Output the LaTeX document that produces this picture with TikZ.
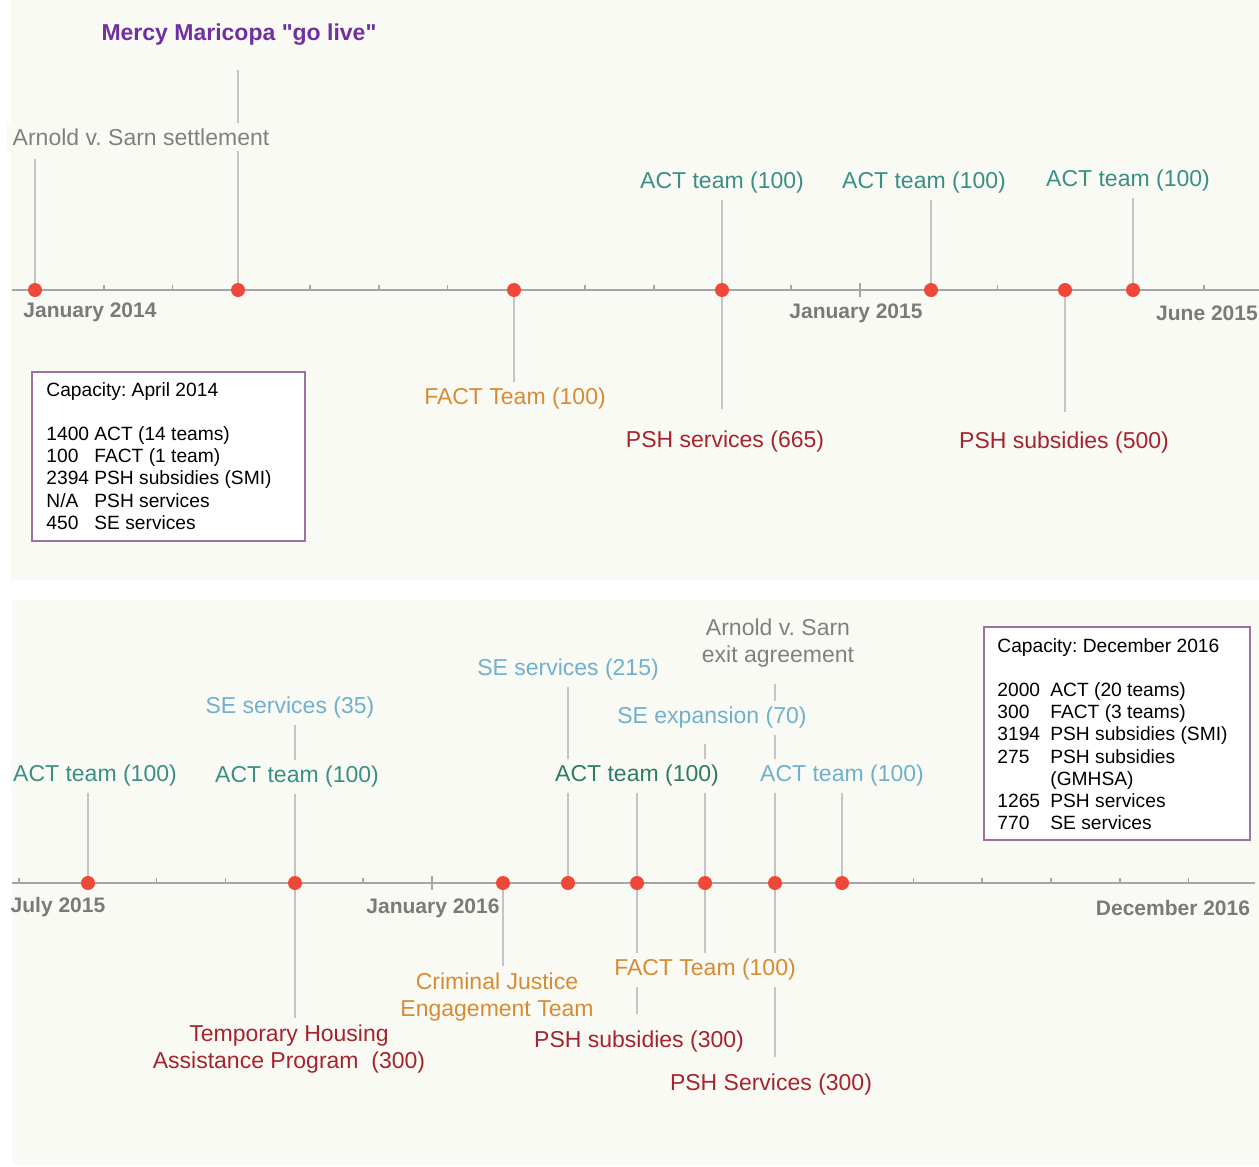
\documentclass[tikz,border=0pt]{standalone}
\usepackage{fontspec}
\setmainfont{Liberation Sans}[Ligatures=TeXOff]
\usetikzlibrary{backgrounds}
\definecolor{panel}{RGB}{250,250,245}
\definecolor{dotred}{RGB}{240,72,56}
\definecolor{stemgray}{RGB}{196,196,196}
\definecolor{axgray}{RGB}{165,165,165}
\definecolor{datgray}{RGB}{122,122,122}
\definecolor{actteal}{RGB}{58,143,132}
\definecolor{actdark}{RGB}{44,124,104}
\definecolor{selight}{RGB}{112,176,204}
\definecolor{factorange}{RGB}{214,140,52}
\definecolor{pshred}{RGB}{165,36,46}
\definecolor{settlegray}{RGB}{128,128,128}
\definecolor{mercypurple}{RGB}{112,48,160}
\definecolor{boxmauve}{RGB}{160,112,160}
\tikzset{
  dot/.style={circle,fill=dotred,inner sep=0pt,minimum size=7pt},
  lbl/.style={fill=panel,inner sep=3pt,align=center,
    font=\fontsize{11.5}{13.5}\selectfont},
  datelbl/.style={font=\bfseries\fontsize{10.5}{12}\selectfont,text=datgray},
  axis/.style={draw=axgray,line width=0.8pt},
  stem/.style={draw=stemgray,line width=1pt},
  capbox/.style={draw=boxmauve,line width=1.2pt,fill=white,inner sep=0pt},
  captext/.style={inner sep=0pt,anchor=base west,
    font=\fontsize{9.6}{11.1}\selectfont},
}
\begin{document}
\frenchspacing
\begin{tikzpicture}[x=0.5pt,y=-0.5pt]
  \useasboundingbox (0,0) rectangle (1259,1167);
  \begin{scope}[on background layer]
    \fill[panel] (10,0) rectangle (1259,580);
    \fill[panel] (12,600) rectangle (1259,1165);
  \end{scope}

  % 2014 - mid 2015
  \draw[axis] (12,290) -- (1259,290);
  \foreach \k in {1,2,4,5,6,8,9,11,14,17} {
    \draw[axis] ({35+68.75*\k},290) -- ++(0,-5);
  }
  \draw[axis] (860,283) -- (860,297);
  \node[datelbl] (jan14) at (90,312) {January 2014};
  \node[datelbl] (jan15) at (856,313) {January 2015};
  \node[datelbl] (jun15) at (1207,313) {June 2015};

  \node[dot] (d1) at (35,290) {};
  \node[dot] (d2) at (238,290) {};
  \node[dot] (d3) at (514,290) {};
  \node[dot] (d4) at (722,290) {};
  \node[dot] (d5) at (931,290) {};
  \node[dot] (d6) at (1065,290) {};
  \node[dot] (d7) at (1133,290) {};

  \node[lbl,text=settlegray] (arn1) at (141,137) {Arnold v. Sarn settlement};
  \node[lbl,text=mercypurple,font=\bfseries\fontsize{11.5}{13.5}\selectfont]
    (mercy) at (239,35) {Mercy Maricopa "go live"};
  \node[lbl,text=factorange] (fact1) at (515,399) {FACT Team (100)};
  \node[lbl,text=actteal] (act1) at (722,183) {ACT team (100)};
  \node[lbl,text=pshred] (psh1) at (725,442) {PSH services (665)};
  \node[lbl,text=actteal] (act2) at (924,183) {ACT team (100)};
  \node[lbl,text=pshred] (psh2) at (1064,443) {PSH subsidies (500)};
  \node[lbl,text=actteal] (act3) at (1128,181) {ACT team (100)};

  \node[capbox,minimum width=136.5pt,minimum height=84.5pt] (capA) at (168.5,456.5) {};
  \node[captext] (capAtxt) at (46,396) {%
    \begin{tabular}[t]{@{}p{24pt}@{}l@{}}
      \multicolumn{2}{@{}l@{}}{Capacity: April 2014}\\
      \\
      1400&ACT (14 teams)\\
      100&FACT (1 team)\\
      2394&PSH subsidies (SMI)\\
      N/A&PSH services\\
      450&SE services
    \end{tabular}};

  % mid 2015 - 2016
  \draw[axis] (12,883) -- (1255,883);
  \foreach \k in {0,2,3,5,13,14,15,16,17} {
    \draw[axis] ({19+68.8*\k},883) -- ++(0,-5);
  }
  \draw[axis] (431.8,876) -- (431.8,890);
  \node[datelbl] (jul15) at (58,907) {July 2015};
  \node[datelbl] (jan16) at (433,908) {January 2016};
  \node[datelbl] (dec16) at (1173,908) {December 2016};

  \node[dot] (e1) at (88,883) {};
  \node[dot] (e2) at (295,883) {};
  \node[dot] (e3) at (503,883) {};
  \node[dot] (e4) at (568,883) {};
  \node[dot] (e5) at (637,883) {};
  \node[dot] (e6) at (705,883) {};
  \node[dot] (e7) at (775,883) {};
  \node[dot] (e8) at (842,883) {};

  \node[lbl,text=actteal,inner xsep=1pt] (act4) at (95,776) {ACT team (100)};
  \node[lbl,text=actteal] (act5) at (297,777) {ACT team (100)};
  \node[lbl,text=selight] (se1) at (290,708) {SE services (35)};
  \node[lbl,text=pshred] (thap) at (289,1049) {Temporary Housing\\Assistance Program\ \ (300)};
  \node[lbl,text=factorange] (cjet) at (497,997) {Criminal Justice\\Engagement Team};
  \node[lbl,text=selight] (se2) at (568,670) {SE services (215)};
  \node[lbl,text=actdark] (act6) at (637,776) {ACT team (100)};
  \node[lbl,text=pshred] (psh3) at (639,1042) {PSH subsidies (300)};
  \node[lbl,text=selight] (se3) at (712,718) {SE expansion (70)};
  \node[lbl,text=factorange] (fact2) at (705,970) {FACT Team (100)};
  \node[lbl,text=settlegray] (arn2) at (778,643) {Arnold v. Sarn\\exit agreement};
  \node[lbl,text=pshred] (psh4) at (771,1085) {PSH Services (300)};
  \node[lbl,text=selight] (act7) at (842,776) {ACT team (100)};

  \node[capbox,minimum width=133pt,minimum height=106.5pt] (capB) at (1117,733.5) {};
  \node[captext] (capBtxt) at (997,652) {%
    \begin{tabular}[t]{@{}p{26.5pt}@{}l@{}}
      \multicolumn{2}{@{}l@{}}{Capacity: December 2016}\\
      \\
      2000&ACT (20 teams)\\
      300&FACT (3 teams)\\
      3194&PSH subsidies (SMI)\\
      275&PSH subsidies\\
      &(GMHSA)\\
      1265&PSH services\\
      770&SE services
    \end{tabular}};

  % stems
  \begin{scope}[on background layer]
    \draw[stem,shorten >=3.5pt] (d1) -- (d1 |- arn1.south);
    \draw[stem,shorten >=9pt] (d2) -- (d2 |- mercy.south);
    \draw[stem] (d3) -- (d3 |- fact1.north);
    \draw[stem] (d4) -- (d4 |- act1.south);
    \draw[stem,shorten >=8pt] (d4) -- (d4 |- psh1.north);
    \draw[stem] (d5) -- (d5 |- act2.south);
    \draw[stem,shorten >=7pt] (d6) -- (d6 |- psh2.north);
    \draw[stem] (d7) -- (d7 |- act3.south);

    \draw[stem] (e1) -- (e1 |- act4.south);
    \draw[stem] (e2) -- (e2 |- se1.south);
    \draw[stem] (e2) -- (e2 |- thap.north);
    \draw[stem] (e3) -- (e3 |- cjet.north);
    \draw[stem] (e4) -- (e4 |- se2.south);
    \draw[stem] (e5) -- (e5 |- act6.south);
    \draw[stem,shorten >=5.5pt] (e5) -- (e5 |- psh3.north);
    \draw[stem,shorten >=4.5pt] (e6) -- (e6 |- se3.south);
    \draw[stem] (e6) -- (e6 |- fact2.north);
    \draw[stem,shorten >=5pt] (e7) -- (e7 |- arn2.south);
    \draw[stem,shorten >=5.5pt] (e7) -- (e7 |- psh4.north);
    \draw[stem] (e8) -- (e8 |- act7.south);
  \end{scope}
\end{tikzpicture}
\end{document}
